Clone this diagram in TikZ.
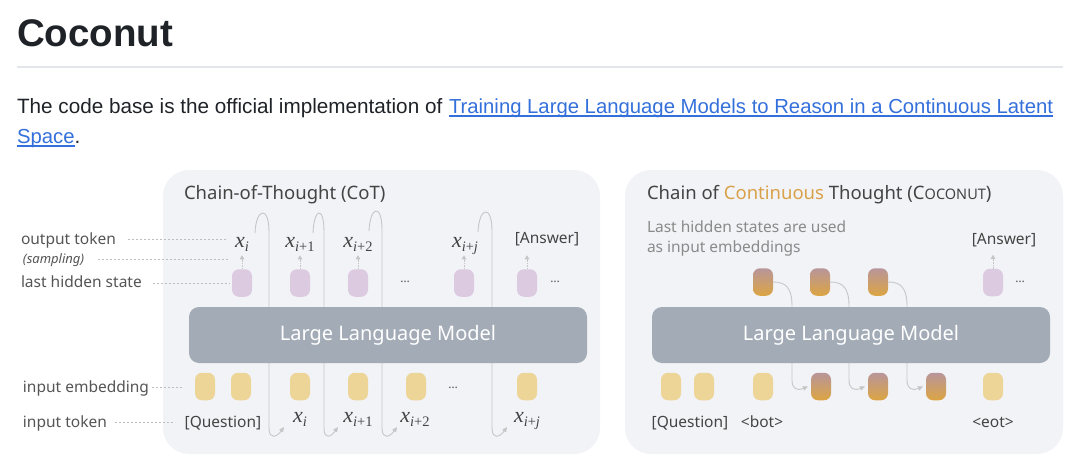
\documentclass[tikz,border=0pt]{standalone}
\usepackage{fontspec}
\setmainfont{Liberation Sans}
\newfontfamily\dfont{Noto Sans}
\newfontfamily\tfont{Liberation Serif}
\usetikzlibrary{arrows.meta,calc}
\definecolor{panelbg}{HTML}{F2F3F7}
\definecolor{llmgray}{HTML}{A2ABB6}
\definecolor{hidpurple}{HTML}{DCCBE0}
\definecolor{embyellow}{HTML}{EDD497}
\definecolor{gradtop}{HTML}{B8959A}
\definecolor{gradbot}{HTML}{DCA542}
\definecolor{txtdark}{HTML}{444444}
\definecolor{txtlabel}{HTML}{555555}
\definecolor{txtsub}{HTML}{8A8A8A}
\definecolor{curvegray}{HTML}{C6C6C6}
\definecolor{leadgray}{HTML}{BDBDBD}
\definecolor{linkblue}{HTML}{3470DC}
\definecolor{rulegray}{HTML}{E3E6EA}
\definecolor{orangetxt}{HTML}{D9A24A}
\definecolor{headtxt}{HTML}{1F2328}
% token x with subscript, set in a serif italic
\newcommand{\tokx}[1]{{\itshape x}\raisebox{-4.5pt}{\fontsize{14.5}{16}\selectfont #1}}
\tikzset{
  every node/.style={inner sep=0pt, outer sep=0pt},
  cell/.style={rectangle, rounded corners=7pt, minimum width=20pt, minimum height=27.5pt},
  hid/.style={cell, fill=hidpurple},
  emb/.style={cell, fill=embyellow},
  lat/.style={cell, top color=gradtop, bottom color=gradbot},
  dtext/.style={font=\dfont\fontsize{15.5}{18}\selectfont, text=txtdark, anchor=base},
  mtok/.style={font=\tfont\fontsize{22}{24}\selectfont, text=txtdark, anchor=base},
  lbl/.style={font=\dfont\fontsize{15.5}{18}\selectfont, text=txtlabel, anchor=base west},
  ttl/.style={font=\dfont\fontsize{18.5}{22}\selectfont, text=txtdark, anchor=base west},
  leader/.style={draw=leadgray, line width=0.7pt, dash pattern=on 2pt off 2pt},
  loopar/.style={draw=curvegray, line width=0.9pt, -{Triangle[length=5pt,width=4.5pt]}},
  upar/.style={draw=curvegray, line width=0.9pt, dash pattern=on 1.5pt off 1pt, -{Triangle[length=4pt,width=4.5pt]}},
  dots/.style={font=\dfont\fontsize{12}{14}\selectfont, text=txtlabel},
  panel/.style={fill=panelbg, rounded corners=26pt},
  llm/.style={fill=llmgray, rounded corners=10pt, text=white, font=\dfont\fontsize{20}{24}\selectfont, minimum height=56pt},
}
\begin{document}
\begin{tikzpicture}[x=1pt,y=-1pt]
\fill[white] (0,0) rectangle (1080,469);
\useasboundingbox (0,0) rectangle (1080,469);

% page header
\node[anchor=base west, font=\bfseries\fontsize{38.5}{44}\selectfont, text=headtxt] (title) at (17,46) {Coconut};
\draw[rulegray, line width=1.5pt] (17,67) -- (1063,67);
\node[anchor=base west, font=\fontsize{20.7}{24}\selectfont, text=headtxt] (p1) at (17,113) {The code base is the official implementation of};
\node[anchor=base west, font=\fontsize{20.3}{24}\selectfont, text=linkblue] (lk1) at (449,113) {Training Large Language Models to Reason in a Continuous Latent};
\draw[linkblue, line width=1.3pt] ([yshift=-3pt]lk1.base west) -- ([yshift=-3pt]lk1.base east);
\node[anchor=base west, font=\fontsize{20.3}{24}\selectfont, text=linkblue] (lk2) at (17,143) {Space};
\draw[linkblue, line width=1.3pt] ([yshift=-3pt]lk2.base west) -- ([yshift=-3pt]lk2.base east);
\node[anchor=base west, font=\fontsize{20.7}{24}\selectfont, text=headtxt] (p2) at (lk2.base east) {.};

% panels
\fill[panel] (163,170) rectangle (600,454);
\fill[panel] (625,170) rectangle (1063,454);

% ---------- left panel: CoT ----------
\node[ttl] (tL) at (184,199) {Chain-of-Thought (CoT)};

% side labels
\node[lbl] (Lout) at (21,244) {output token};
\node[lbl, font=\dfont\itshape\fontsize{13}{15}\selectfont] (Lsmp) at (23,263) {(sampling)};
\node[lbl] (Lhid) at (21,287) {last hidden state};
\node[lbl] (Lemb) at (23,392) {input embedding};
\node[lbl] (Ltok) at (23,427) {input token};

% output tokens
\node[mtok] (o1) at (242,247) {\tokx{\itshape i}};
\node[mtok] (o2) at (300,247) {\tokx{{\itshape i}+1}};
\node[mtok] (o3) at (358,247) {\tokx{{\itshape i}+2}};
\node[mtok] (o4) at (465,247) {\tokx{{\itshape i}+{\itshape j}}};
\node[dtext] (oA) at (547,243) {[Answer]};

% last hidden states
\node[hid] (h1) at (242,283) {};
\node[hid] (h2) at (300,283) {};
\node[hid] (h3) at (358,283) {};
\node[dots] (hd1) at (405,282) {\dots};
\node[hid] (h4) at (464,283) {};
\node[hid] (h5) at (527,283) {};
\node[dots] (hd2) at (555,282) {\dots};

% sampling arrows
\foreach \n in {1,2,3,4,5}{ \draw[upar] (h\n.north) -- ++(0,-14); }

% input embeddings
\node[emb] (e1) at (205,386.5) {};
\node[emb] (e2) at (241,386.5) {};
\node[emb] (e3) at (300,386.5) {};
\node[emb] (e4) at (358,386.5) {};
\node[emb] (e5) at (416,386.5) {};
\node[dots] (ed) at (453,388) {\dots};
\node[emb] (e6) at (527,386.5) {};

% input tokens
\node[dtext] (iQ) at (223,427) {[Question]};
\node[mtok] (i1) at (300,422) {\tokx{\itshape i}};
\node[mtok] (i2) at (358,422) {\tokx{{\itshape i}+1}};
\node[mtok] (i3) at (415,422) {\tokx{{\itshape i}+2}};
\node[mtok] (i4) at (527,422) {\tokx{{\itshape i}+{\itshape j}}};

% leaders
\draw[leader] (128,239) -- (227,239);
\draw[leader] (98,259) -- (228,259);
\draw[leader] (153,283) -- (230,283);
\draw[leader] (152,387) -- (183,387);
\draw[leader] (115,422) -- (175,422);

% feedback loops (behind LLM)
\coordinate (s1) at (255,233); \coordinate (t1) at (284,427);
\coordinate (s2) at (313,233); \coordinate (t2) at (338,427);
\coordinate (s3) at (369,231); \coordinate (t3) at (397,427);
\coordinate (s4) at (478,232); \coordinate (t4) at (507,427);
\draw[loopar] (s1) .. controls (256,208) and (269,205) .. (269,232) -- (269,428) .. controls (269,440) and (277,437) .. (t1);
\draw[loopar] (s2) .. controls (314,208) and (324,205) .. (324,232) -- (324,428) .. controls (324,440) and (331,437) .. (t2);
\draw[loopar] (s3) .. controls (370,206) and (382,203) .. (382,230) -- (382,428) .. controls (382,440) and (390,437) .. (t3);
\draw[loopar] (s4) .. controls (479,207) and (492,204) .. (492,231) -- (492,428) .. controls (492,440) and (500,437) .. (t4);

\node[llm, minimum width=398pt] (llmL) at (388,335) {Large Language Model};

% ---------- right panel: Coconut ----------
\node[ttl] (tR) at (647,199) {Chain of \textcolor{orangetxt}{Continuous} Thought (C{\fontsize{14.5}{16}\selectfont OCONUT})};
\node[anchor=base west, font=\dfont\fontsize{15.5}{18}\selectfont, text=txtsub] (sub1) at (647,232) {Last hidden states are used};
\node[anchor=base west, font=\dfont\fontsize{15.5}{18}\selectfont, text=txtsub] (sub2) at (647,252) {as input embeddings};

\node[dtext] (rA) at (1004,244) {[Answer]};
\node[lat] (g1) at (763,282) {};
\node[lat] (g2) at (820,282) {};
\node[lat] (g3) at (878,282) {};
\node[hid] (rh) at (993,282.5) {};
\node[dots] (rd) at (1020,282) {\dots};
\draw[upar] (rh.north) -- ++(0,-14);

\node[emb] (r1) at (671,386.5) {};
\node[emb] (r2) at (704,386.5) {};
\node[emb] (r3) at (763,386.5) {};
\node[lat] (b1) at (821,386.5) {};
\node[lat] (b2) at (878,386.5) {};
\node[lat] (b3) at (936,386.5) {};
\node[emb] (r4) at (993,386.5) {};

\node[dtext] (rQ) at (690,427) {[Question]};
\node[dtext] (rbot) at (762,427) {<bot>};
\node[dtext] (reot) at (993,427) {<eot>};

\draw[loopar] (g1.east) .. controls (786,282) and (792,288) .. (792,306) -- (792,380) .. controls (792,389) and (797,391) .. ([xshift=-3pt]b1.west);
\draw[loopar] (g2.east) .. controls (843,282) and (849,288) .. (849,306) -- (849,380) .. controls (849,389) and (854,391) .. ([xshift=-3pt]b2.west);
\draw[loopar] (g3.east) .. controls (901,282) and (907,288) .. (907,306) -- (907,380) .. controls (907,389) and (912,391) .. ([xshift=-3pt]b3.west);

\node[llm, minimum width=398pt] (llmR) at (851,335) {Large Language Model};
\end{tikzpicture}
\end{document}
